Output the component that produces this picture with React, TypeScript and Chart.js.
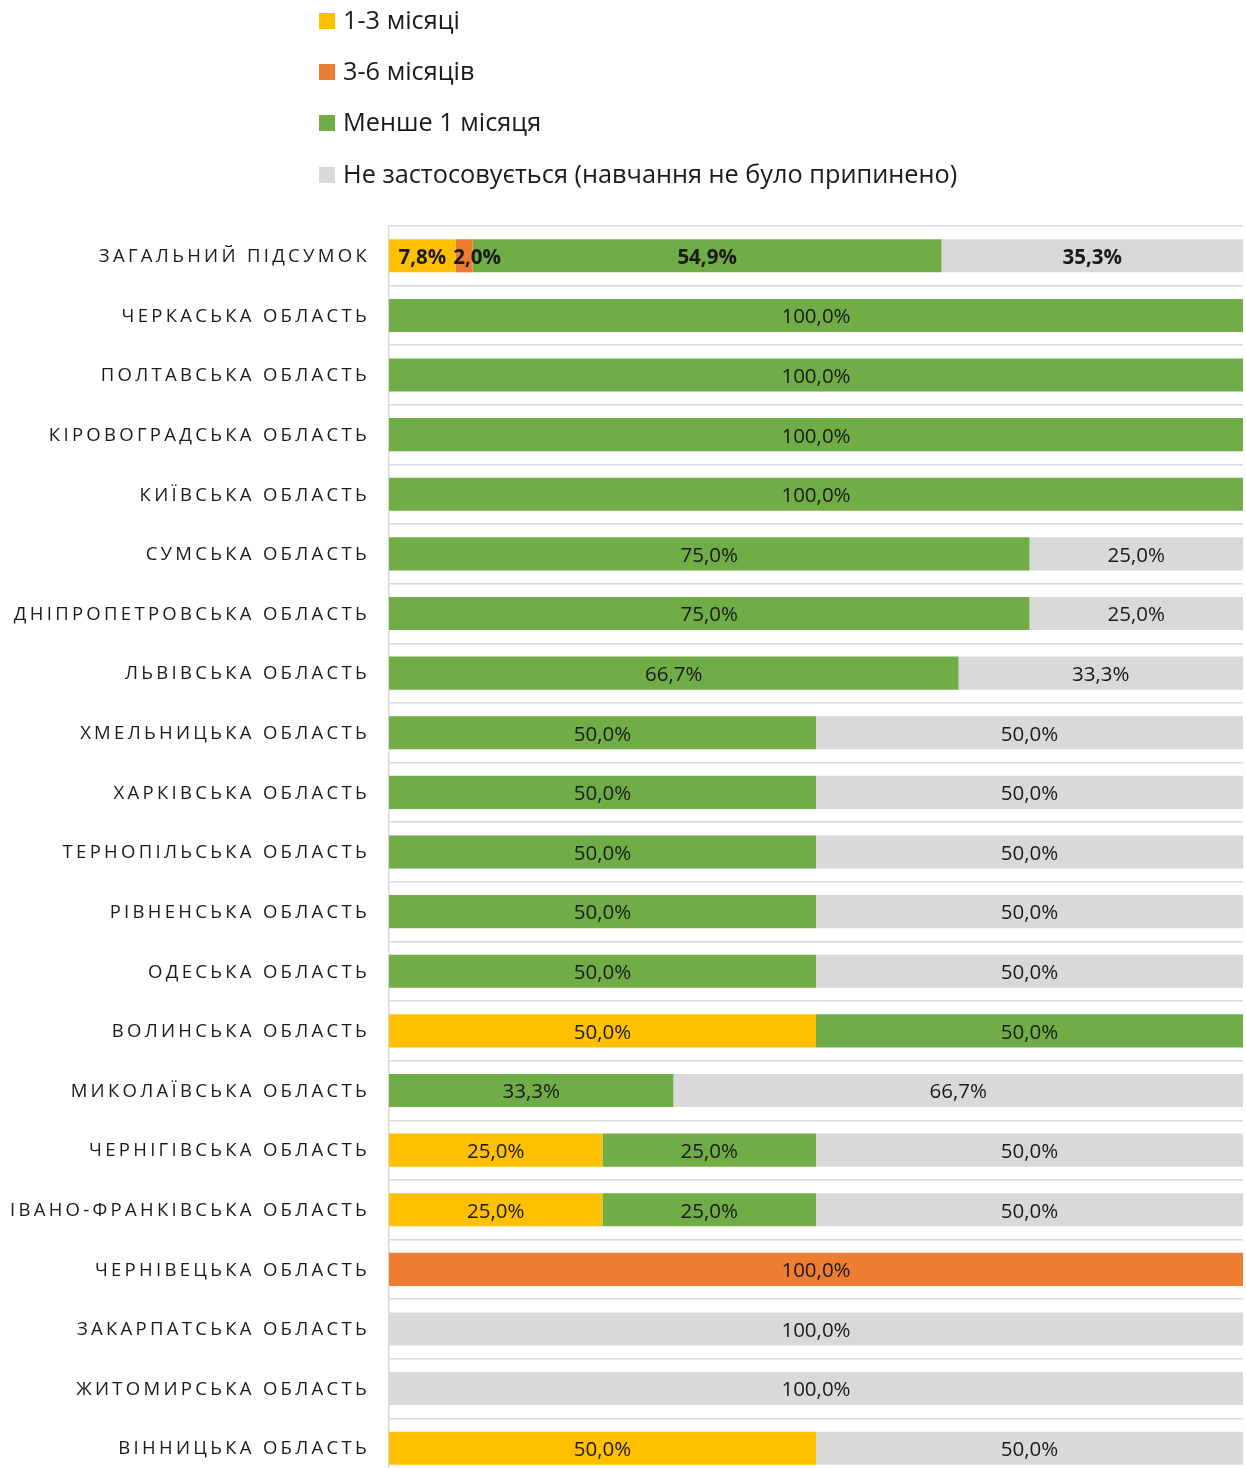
import React, { useEffect, useRef } from 'react';
import { Chart, registerables } from 'chart.js';

Chart.register(...registerables);

const categories = [
  'ЗАГАЛЬНИЙ ПІДСУМОК',
  'ЧЕРКАСЬКА ОБЛАСТЬ',
  'ПОЛТАВСЬКА ОБЛАСТЬ',
  'КІРОВОГРАДСЬКА ОБЛАСТЬ',
  'КИЇВСЬКА ОБЛАСТЬ',
  'СУМСЬКА ОБЛАСТЬ',
  'ДНІПРОПЕТРОВСЬКА ОБЛАСТЬ',
  'ЛЬВІВСЬКА ОБЛАСТЬ',
  'ХМЕЛЬНИЦЬКА ОБЛАСТЬ',
  'ХАРКІВСЬКА ОБЛАСТЬ',
  'ТЕРНОПІЛЬСЬКА ОБЛАСТЬ',
  'РІВНЕНСЬКА ОБЛАСТЬ',
  'ОДЕСЬКА ОБЛАСТЬ',
  'ВОЛИНСЬКА ОБЛАСТЬ',
  'МИКОЛАЇВСЬКА ОБЛАСТЬ',
  'ЧЕРНІГІВСЬКА ОБЛАСТЬ',
  'ІВАНО-ФРАНКІВСЬКА ОБЛАСТЬ',
  'ЧЕРНІВЕЦЬКА ОБЛАСТЬ',
  'ЗАКАРПАТСЬКА ОБЛАСТЬ',
  'ЖИТОМИРСЬКА ОБЛАСТЬ',
  'ВІННИЦЬКА ОБЛАСТЬ',
];

const seriesNames = [
  '1-3 місяці',
  '3-6 місяців',
  'Менше 1 місяця',
  'Не застосовується (навчання не було припинено)',
];

const months1to3 = [7.8, 0, 0, 0, 0, 0, 0, 0, 0, 0, 0, 0, 0, 50, 0, 25, 25, 0, 0, 0, 50];
const months3to6 = [2.0, 0, 0, 0, 0, 0, 0, 0, 0, 0, 0, 0, 0, 0, 0, 0, 0, 100, 0, 0, 0];
const lessThan1Month = [54.9, 100, 100, 100, 100, 75, 75, 66.7, 50, 50, 50, 50, 50, 50, 33.3, 25, 25, 0, 0, 0, 0];
const notApplicable = [35.3, 0, 0, 0, 0, 25, 25, 33.3, 50, 50, 50, 50, 50, 0, 66.7, 50, 50, 0, 100, 100, 50];

const seriesColors = ['#FFC000', '#ED7D31', '#70AD47', '#D9D9D9'];

const FONT = '"Open Sans", "Noto Sans", sans-serif';
const LABEL_RIGHT = 367;
const CAT_FONT_SIZE = 18.5;
const CAT_LETTER_SPACING = 3.3;

const categoryLabelsPlugin = {
  id: 'categoryLabels',
  afterDraw(chart: any) {
    const ctx = chart.ctx;
    const yScale = chart.scales.y;
    ctx.save();
    ctx.font = `${CAT_FONT_SIZE}px ${FONT}`;
    (ctx as any).letterSpacing = `${CAT_LETTER_SPACING}px`;
    ctx.fillStyle = '#1a1a1a';
    ctx.textAlign = 'right';
    ctx.textBaseline = 'middle';
    (chart.data.labels as string[]).forEach((label, i) => {
      ctx.fillText(label, LABEL_RIGHT + 3, yScale.getPixelForValue(i) + 1);
    });
    ctx.restore();
  },
};

const legendPlugin = {
  id: 'customLegend',
  afterDraw(chart: any) {
    const ctx = chart.ctx;
    ctx.save();
    ctx.font = `25.3px ${FONT}`;
    ctx.textAlign = 'left';
    ctx.textBaseline = 'middle';
    const ys = [21, 72, 123, 175];
    chart.data.datasets.forEach((ds: any, i: number) => {
      const y = ys[i];
      ctx.fillStyle = ds.backgroundColor;
      ctx.fillRect(319, y - 8, 16, 16);
      ctx.fillStyle = '#1a1a1a';
      ctx.fillText(ds.label, 343, y + 1);
    });
    ctx.restore();
  },
};

const dataLabelsPlugin = {
  id: 'segmentLabels',
  afterDatasetsDraw(chart: any) {
    const ctx = chart.ctx;
    ctx.save();
    ctx.fillStyle = '#1a1a1a';
    ctx.textBaseline = 'middle';
    ctx.textAlign = 'center';
    const n = chart.data.labels.length;
    for (let i = 0; i < n; i++) {
      let prevRight = -Infinity;
      chart.data.datasets.forEach((ds: any, di: number) => {
        const v = ds.data[i];
        if (!v) return;
        const bar = chart.getDatasetMeta(di).data[i];
        const { x, base, y } = bar.getProps(['x', 'base', 'y'], true);
        ctx.font = i === 0 ? `bold 20.5px ${FONT}` : `20.5px ${FONT}`;
        const text = v.toFixed(1).replace('.', ',') + '%';
        const w = ctx.measureText(text).width;
        let cx = (x + base) / 2;
        if (cx - w / 2 < prevRight + 7) cx = prevRight + 7 + w / 2;
        ctx.fillText(text, cx, y + 2);
        prevRight = cx + w / 2;
      });
    }
    ctx.restore();
  },
};

export default function App() {
  const canvasRef = useRef<HTMLCanvasElement | null>(null);

  useEffect(() => {
    if (!canvasRef.current) return;
    const seriesValues = [months1to3, months3to6, lessThan1Month, notApplicable];
    const chart = new Chart(canvasRef.current, {
      type: 'bar',
      data: {
        labels: categories,
        datasets: seriesNames.map((name, i) => ({
          label: name,
          data: seriesValues[i],
          backgroundColor: seriesColors[i],
          borderWidth: 0,
          barPercentage: 0.555,
          categoryPercentage: 1,
        })),
      },
      options: {
        indexAxis: 'y',
        responsive: false,
        animation: false,
        layout: { padding: { top: 226, left: 389, right: 3, bottom: 2 } },
        plugins: {
          legend: { display: false },
          tooltip: { enabled: false },
        },
        scales: {
          x: { stacked: true, min: 0, max: 100, display: false },
          y: {
            stacked: true,
            offset: true,
            ticks: { display: false },
            grid: { color: '#D9D9D9', lineWidth: 1.5, drawTicks: false, offset: true },
            border: { display: true, color: '#D9D9D9', width: 1.5 },
          },
        },
      },
      plugins: [categoryLabelsPlugin, legendPlugin, dataLabelsPlugin],
    });
    return () => chart.destroy();
  }, []);

  return (
    <div style={{ position: 'absolute', left: 0, top: 0, width: 1246, height: 1468, overflow: 'hidden', background: '#fff' }}>
      <canvas ref={canvasRef} width={1246} height={1480} style={{ display: 'block', width: 1246, height: 1480 }} />
    </div>
  );
}
